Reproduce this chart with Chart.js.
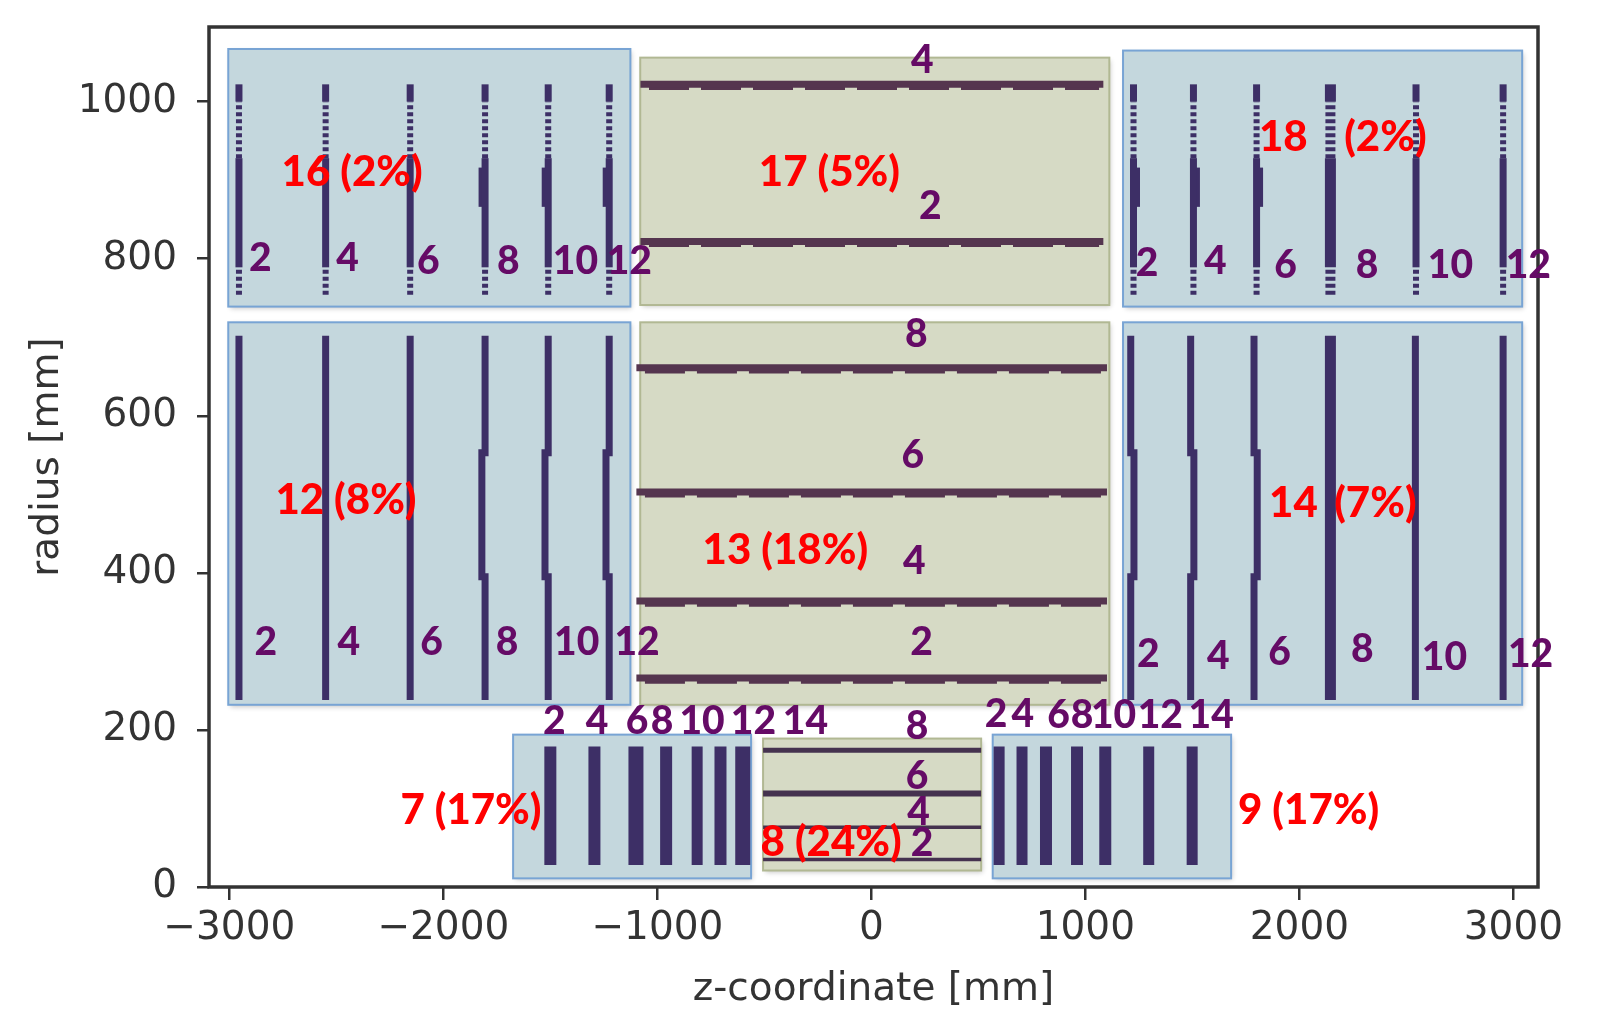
<!DOCTYPE html>
<html>
<head>
<meta charset="utf-8">
<script src="https://cdn.jsdelivr.net/npm/chart.js@4.4.1/dist/chart.umd.min.js"></script>
<style>
body { margin: 0; background: #fff; }
#wrap { width: 1598px; height: 1024px; }
</style>
</head>
<body>
<div id="wrap"><canvas id="detChart" width="1598" height="1024"></canvas></div>
<script>
// axis ticks
const xTicks = [-3000, -2000, -1000, 0, 1000, 2000, 3000];
const yTicks = [0, 200, 400, 600, 800, 1000];

// volume boxes [zmin, zmax, rmin, rmax]
const blueBoxes = [
    [-3005, -1126, 739, 1067],   // 16
    [1176, 3041, 739, 1065],     // 18
    [-3005, -1126, 232, 719],    // 12
    [1176, 3041, 232, 719],      // 14
    [-1674, -562, 11, 194],      // 7
    [567, 1681, 11, 194]         // 9
];
const greenBoxes = [
    [-1080, 1112, 741, 1056],    // 17
    [-1080, 1112, 232, 719],     // 13
    [-506, 513, 21, 189]         // 8
];

//#region layers
// long strip endcaps (16 / 18)
const vol16Z = [-2955, -2550, -2155, -1805, -1510, -1225];
const vol18Z = [1225, 1505, 1800, 2145, 2545, 2952];
const vol18Width = [7, 7, 7, 11, 7, 7];
const stripSolid = [[789, 928], [1000, 1022]];
const stripDashed = [[928, 1000], [754, 789]];
const vol16Step = [0, 0, 0, -14, -14, -14];
const vol18Step = [14, 14, 14, 0, 0, 0];
const stepR = [866, 916];

// short strip endcaps (12 / 14)
const vol12Z = [-2955, -2550, -2155, -1805, -1510, -1225];
const vol14Z = [1212, 1492, 1788, 2145, 2542, 2952];
const vol14Width = [7, 7, 7, 11, 7, 7];
const midR = [238, 702];
const vol12Shift = [0, 0, 0, -15, -15, -15];
const vol14Shift = [15, 15, 15, 0, 0, 0];
const shiftR = [395, 553];

// barrels
const vol13R = [266, 364, 503, 661];
const vol13Z = [-1098, 1101];
const vol17R = [822, 1022];
const vol17Z = [-1079, 1084];
const vol8R = [35, 76, 119, 174];
const vol8Width = [3.5, 3.5, 6, 5];
const vol8Z = [-506, 513];

// pixel endcaps
const vol7Z = [-1500, -1294, -1100, -959, -814, -705, -601];
const vol7Width = [12, 12, 15, 12, 11, 12, 15];
const vol9Z = [597, 704, 816, 961, 1093, 1296, 1499];
const vol9Width = [11, 11, 12, 12, 12, 11, 11];
const pixR = [28, 179];
//#endregion

//#region labels
const volNames = ['16 (2%)', '17 (5%)', '18', '(2%)', '12 (8%)', '13 (18%)', '14', '(7%)', '7 (17%)', '8 (24%)', '9 (17%)'];
const volNameZ = [-2426, -196, 1925, 2402, -2455, -402, 1972, 2355, -1871, -188, 2043];
const volNameR = [910, 910, 954, 954, 492, 429, 488, 488, 98, 57, 98];

const layerText = [
    '2', '4', '6', '8', '10', '12',          // 16
    '4', '2',                                // 17
    '2', '4', '6', '8', '10', '12',          // 18
    '2', '4', '6', '8', '10', '12',          // 12
    '8', '6', '4', '2',                      // 13
    '2', '4', '6', '8', '10', '12',          // 14
    '2', '4', '6', '8', '10', '12', '14',    // 7
    '8', '6', '4', '2',                      // 8
    '2', '4', '6', '8', '10', '12', '14'     // 9
];
const layerZ = [
    -2855, -2447, -2070, -1696, -1383, -1131,
    238, 276,
    1288, 1607, 1935, 2316, 2706, 3070,
    -2830, -2442, -2055, -1702, -1377, -1095,
    210, 194, 201, 234,
    1294, 1621, 1907, 2294, 2678, 3080,
    -1481, -1282, -1095, -978, -791, -551, -308,
    213, 213, 221, 237,
    583, 708, 875, 985, 1132, 1350, 1588
];
const layerR = [
    800, 800, 797, 797, 797, 797,
    1053, 866,
    794, 796, 791, 792, 792, 792,
    312, 312, 312, 312, 312, 312,
    704, 549, 415, 312,
    296, 294, 299, 302, 292, 296,
    211, 211, 211, 211, 211, 211, 211,
    204, 141, 95, 55,
    220, 220, 219, 219, 219, 219, 219
];
//#endregion

const stripColor = '#3d2f66';
const barrelColor = '#55354f';
const pixColor = '#45324f';

function seg(points, color, width, dash) {
    return {
        data: points.map(p => ({x: p[0], y: p[1]})),
        showLine: true,
        borderColor: color,
        borderWidth: width,
        borderDash: dash || [],
        borderCapStyle: 'butt',
        borderJoinStyle: 'miter',
        pointRadius: 0,
        pointHoverRadius: 0
    };
}

// 建立所有層的資料集
let datasets = [];
function addLongStrip(z, w, step) {
    stripSolid.forEach(s => datasets.push(seg([[z, s[0]], [z, s[1]]], stripColor, w)));
    stripDashed.forEach(s => datasets.push(seg([[z, s[0]], [z, s[1]]], stripColor, w - 1, [4, 3])));
    if (step != 0) {
        datasets.push(seg([[z + step, stepR[0]], [z + step, stepR[1]]], stripColor, w));
    }
}
vol16Z.forEach((z, i) => addLongStrip(z, 7, vol16Step[i]));
vol18Z.forEach((z, i) => addLongStrip(z, vol18Width[i], vol18Step[i]));

function addMidStrip(z, w, s) {
    if (s == 0) {
        datasets.push(seg([[z, midR[0]], [z, midR[1]]], stripColor, w));
    } else {
        datasets.push(seg([[z, midR[0]], [z, shiftR[0]], [z + s, shiftR[0]], [z + s, shiftR[1]], [z, shiftR[1]], [z, midR[1]]], stripColor, w));
    }
}
vol12Z.forEach((z, i) => addMidStrip(z, 7, vol12Shift[i]));
vol14Z.forEach((z, i) => addMidStrip(z, vol14Width[i], vol14Shift[i]));

function addBarrel(r, zr) {
    datasets.push(seg([[zr[0], r], [zr[1], r]], barrelColor, 7));
    datasets.push(seg([[zr[0] + 40, r - 4], [zr[1] - 20, r - 4]], barrelColor, 5, [40, 12]));
}
vol13R.forEach(r => addBarrel(r, vol13Z));
vol17R.forEach(r => addBarrel(r, vol17Z));
vol8R.forEach((r, i) => datasets.push(seg([[vol8Z[0], r], [vol8Z[1], r]], pixColor, vol8Width[i])));

vol7Z.forEach((z, i) => datasets.push(seg([[z, pixR[0]], [z, pixR[1]]], stripColor, vol7Width[i])));
vol9Z.forEach((z, i) => datasets.push(seg([[z, pixR[0]], [z, pixR[1]]], stripColor, vol9Width[i])));

//#region plugins
const boxPlugin = {
    id: 'volumeBoxes',
    beforeDatasetsDraw(chart) {
        const ctx = chart.ctx;
        const xs = chart.scales.x, ys = chart.scales.y;
        function drawBoxes(boxes, fill, stroke) {
            boxes.forEach(b => {
                const l = xs.getPixelForValue(b[0]);
                const r = xs.getPixelForValue(b[1]);
                const t = ys.getPixelForValue(b[3]);
                const btm = ys.getPixelForValue(b[2]);
                ctx.save();
                ctx.shadowColor = 'rgba(0,0,0,0.22)';
                ctx.shadowBlur = 5;
                ctx.shadowOffsetX = 2;
                ctx.shadowOffsetY = 2;
                ctx.fillStyle = fill;
                ctx.fillRect(l, t, r - l, btm - t);
                ctx.restore();
                ctx.save();
                ctx.strokeStyle = stroke;
                ctx.lineWidth = 2;
                ctx.strokeRect(l, t, r - l, btm - t);
                ctx.restore();
            });
        }
        drawBoxes(blueBoxes, '#c4d7dd', '#78a4d4');
        drawBoxes(greenBoxes, '#d6dac5', '#b1b893');
    }
};

const labelPlugin = {
    id: 'frameAndLabels',
    afterDatasetsDraw(chart) {
        const ctx = chart.ctx;
        const a = chart.chartArea;
        const xs = chart.scales.x, ys = chart.scales.y;
        // 外框
        ctx.save();
        ctx.strokeStyle = '#333';
        ctx.lineWidth = 3.5;
        ctx.strokeRect(a.left, a.top, a.right - a.left, a.bottom - a.top);
        ctx.restore();

        ctx.save();
        ctx.textAlign = 'center';
        ctx.textBaseline = 'middle';
        ctx.font = '900 39px Lato';
        ctx.fillStyle = '#650b66';
        layerText.forEach((t, i) => {
            ctx.fillText(t, xs.getPixelForValue(layerZ[i]), ys.getPixelForValue(layerR[i]));
        });
        ctx.font = '900 42px Lato';
        ctx.fillStyle = '#ff0000';
        volNames.forEach((t, i) => {
            ctx.fillText(t, xs.getPixelForValue(volNameZ[i]), ys.getPixelForValue(volNameR[i]));
        });
        ctx.restore();
    }
};
//#endregion

function fmtTick(v) {
    return v < 0 ? '\u2212' + Math.abs(v) : String(v);
}

const axisFont = {family: 'DejaVu Sans', size: 39};

new Chart(document.getElementById('detChart').getContext('2d'), {
    type: 'scatter',
    data: {datasets: datasets},
    options: {
        responsive: false,
        animation: false,
        layout: {padding: {left: 0, right: 60, top: 27, bottom: 0}},
        plugins: {legend: {display: false}, tooltip: {enabled: false}},
        scales: {
            x: {
                type: 'linear',
                min: -3095,
                max: 3115,
                afterBuildTicks: s => { s.ticks = xTicks.map(v => ({value: v})); },
                afterFit: s => { s.height = 137; s.paddingLeft = 0; s.paddingRight = 0; },
                grid: {drawOnChartArea: false, drawTicks: true, tickLength: 13, color: '#333', lineWidth: 2.5},
                border: {display: false},
                ticks: {padding: 5, color: '#333', font: axisFont, maxRotation: 0, autoSkip: false, callback: v => fmtTick(v)},
                title: {display: true, text: 'z-coordinate [mm]', color: '#333', font: axisFont, padding: {top: 0, bottom: 11}}
            },
            y: {
                type: 'linear',
                min: 0,
                max: 1095,
                afterBuildTicks: s => { s.ticks = yTicks.map(v => ({value: v})); },
                afterFit: s => { s.width = 209; s.paddingTop = 0; s.paddingBottom = 0; },
                grid: {drawOnChartArea: false, drawTicks: true, tickLength: 12, color: '#333', lineWidth: 2.5},
                border: {display: false},
                ticks: {padding: 20, color: '#333', font: axisFont, autoSkip: false, callback: v => fmtTick(v)},
                title: {display: true, text: 'radius [mm]', color: '#333', font: axisFont, padding: {top: 24, bottom: 0}}
            }
        }
    },
    plugins: [boxPlugin, labelPlugin]
});
</script>
</body>
</html>
